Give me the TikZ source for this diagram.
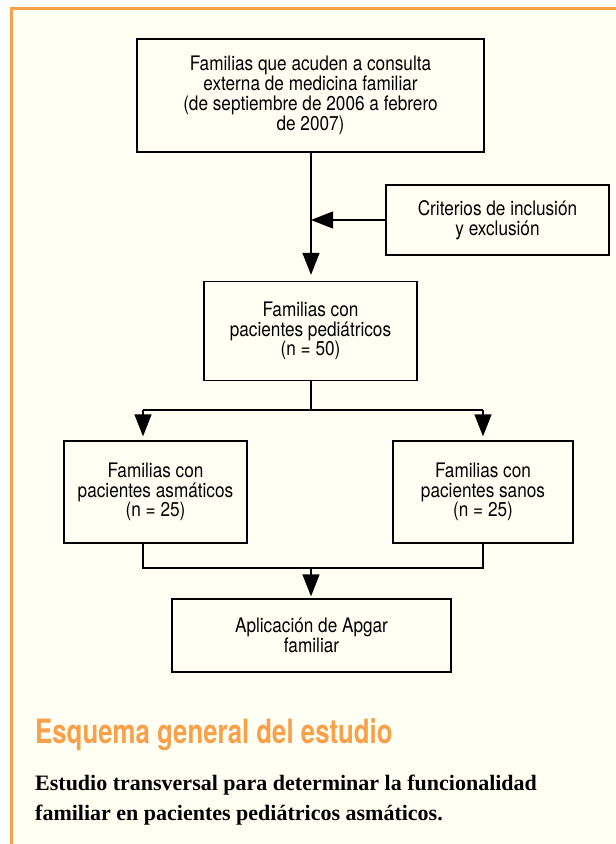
\documentclass[tikz,border=0pt]{standalone}
\usepackage{fontspec}
\setmainfont{Liberation Serif}
\newfontfamily\boxfont[FakeStretch=0.86]{TeX Gyre Heros}
\newfontfamily\titlefont[FakeStretch=0.77]{TeX Gyre Heros}
\usetikzlibrary{arrows.meta}
\definecolor{cream}{HTML}{FFFFF4}
\definecolor{orangeF}{HTML}{F9A04A}
\begin{document}
\begin{tikzpicture}[x=1pt,y=-1pt,
  box/.style={draw, line width=1.3pt, align=center, inner sep=0pt,
    font=\boxfont\fontsize{20}{19.5}\selectfont},
  conn/.style={line width=1.3pt},
  arr/.style={conn, -{Triangle[width=17pt,length=22pt]}}]
\useasboundingbox (0,0) rectangle (616,844);
\fill[white] (0,0) rectangle (616,844);
\fill[cream] (11,8) rectangle (616,844);
\draw[orangeF, line width=2.5pt] (11.5,844) -- (11.5,8.5) -- (616,8.5);

\node[box, minimum width=347pt, minimum height=113pt,
  font=\boxfont\fontsize{20}{20}\selectfont] (b1) at (310.5,95.5)
  {Familias que acuden a consulta\\externa de medicina familiar\\(de septiembre de 2006 a febrero\\de 2007)};
\node[box, minimum width=223pt, minimum height=70pt] (crit) at (497.5,220)
  {Criterios de inclusión\\y exclusión};
\node[box, minimum width=213pt, minimum height=99pt] (b2) at (310.5,331)
  {Familias con\\pacientes pediátricos\\(n = 50)};
\node[box, minimum width=183pt, minimum height=102pt] (b3) at (155.5,492)
  {Familias con\\pacientes asmáticos\\(n = 25)};
\node[box, minimum width=180pt, minimum height=102pt] (b4) at (483,492)
  {Familias con\\pacientes sanos\\(n = 25)};
\node[box, minimum width=279pt, minimum height=73pt] (b5) at (311.5,635.5)
  {Aplicación de Apgar\\familiar};

\coordinate (xa) at (311,0);
\coordinate (xl) at (143,0);
\coordinate (xr) at (483,0);
\coordinate (y1) at (0,410);
\coordinate (y2) at (0,568);

\draw[arr, shorten >=6pt] (b1.south -| xa) -- (b2.north -| xa);
\draw[arr] (crit.west) -- (crit.west -| xa);
\draw[conn] (b2.south -| xa) -- (y1 -| xa);
\draw[conn] (y1 -| xl) -- (y1 -| xr);
\draw[arr, shorten >=4pt] (y1 -| xl) -- (b3.north -| xl);
\draw[arr, shorten >=4pt] (y1 -| xr) -- (b4.north -| xr);
\draw[conn] (b3.south -| xl) -- (y2 -| xl) -- (y2 -| xr) -- (b4.south -| xr);
\draw[arr, shorten >=2pt] (y2 -| xa) -- (b5.north -| xa);

\node[anchor=base west, inner sep=0pt, text=orangeF,
  font=\titlefont\bfseries\fontsize{33.5}{33.5}\selectfont] (title) at (35,743)
  {Esquema general del estudio};
\node[anchor=base west, inner sep=0pt, align=left,
  font=\bfseries\fontsize{22}{30}\selectfont] (desc) at (35,820)
  {Estudio transversal para determinar la funcionalidad\\familiar en pacientes pediátricos asmáticos.};
\end{tikzpicture}
\end{document}
